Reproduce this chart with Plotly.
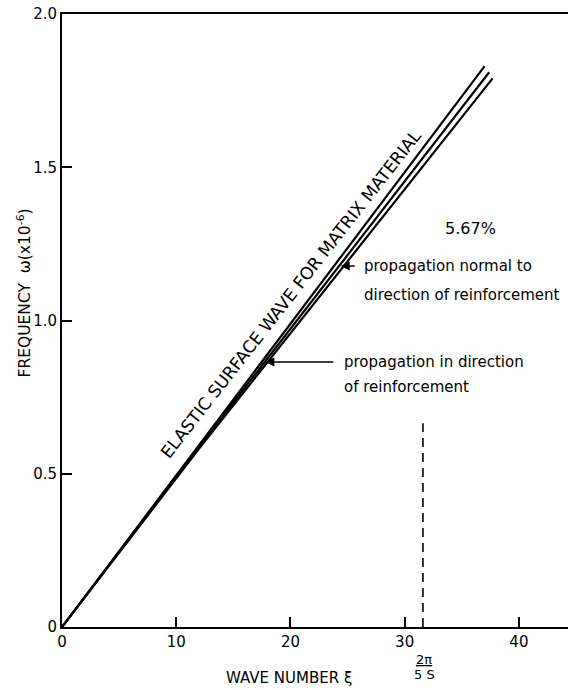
import plotly.graph_objects as go

# ---- data ----
x_tick_vals = [0, 10, 20, 30, 40]
x_tick_text = ["0", "10", "20", "30", "40"]
y_tick_vals = [0, 0.5, 1.0, 1.5, 2.0]
y_tick_text = ["0", "0.5", "1.0", "1.5", "2.0"]

matrix_x = [0, 12, 37.0]
matrix_y = [0, 0.594, 1.83]
normal_x = [0, 12, 37.4]
normal_y = [0, 0.588, 1.81]
direction_x = [0, 12, 37.7]
direction_y = [0, 0.582, 1.79]

cutoff_x = [31.6, 31.6]
cutoff_y = [0, 0.665]

FONT = "DejaVu Sans"

fig = go.Figure()
for xs, ys in [(matrix_x, matrix_y), (normal_x, normal_y), (direction_x, direction_y)]:
    fig.add_trace(go.Scatter(x=xs, y=ys, mode="lines",
                             line=dict(color="black", width=2.2),
                             showlegend=False, hoverinfo="skip"))
fig.add_trace(go.Scatter(x=cutoff_x, y=cutoff_y, mode="lines",
                         line=dict(color="black", width=1.6, dash="9px,6px"),
                         showlegend=False, hoverinfo="skip"))

ann = []
def txt(x, y, s, size=14, xanchor="center", angle=0, xref="x", yref="y"):
    ann.append(dict(x=x, y=y, text=s, showarrow=False, xanchor=xanchor, yanchor="middle",
                    textangle=angle, xref=xref, yref=yref,
                    font=dict(family=FONT, size=size, color="black")))

txt(20.05, 1.085, "ELASTIC SURFACE WAVE FOR MATRIX MATERIAL", size=17.2, angle=-52)
txt(35.8, 1.30, "5.67%", size=16)
txt(26.25, 1.178, "propagation normal to", size=15, xanchor="left")
txt(26.25, 1.083, "direction of reinforcement", size=15, xanchor="left")
txt(24.5, 0.865, "propagation in direction", size=15, xanchor="left")
txt(24.5, 0.783, "of reinforcement", size=15, xanchor="left")

# arrows
ann.append(dict(x=24.4, y=1.178, ax=16, ay=0, text=" ", showarrow=True,
                arrowhead=2, arrowsize=1.2, arrowwidth=1.5, arrowcolor="black",
                font=dict(size=4), xref="x", yref="y"))
ann.append(dict(x=17.8, y=0.865, ax=70, ay=0, text=" ", showarrow=True,
                arrowhead=2, arrowsize=1.2, arrowwidth=1.5, arrowcolor="black",
                font=dict(size=4), xref="x", yref="y"))

# axis titles
txt(-0.074, 0.545, "FREQUENCY  ω(x10<sup>-6</sup>)", size=15.5, angle=-90,
    xref="paper", yref="paper")
txt(0.449, -0.083, "WAVE NUMBER ξ", size=15, xref="paper", yref="paper")
txt(31.7, -0.053, "<u>2π</u>", size=13, yref="paper")
txt(31.7, -0.077, "5 S", size=13, yref="paper")

fig.update_layout(
    width=568, height=690,
    margin=dict(l=62, r=0, t=14, b=63),
    paper_bgcolor="white", plot_bgcolor="white",
    annotations=ann,
    xaxis=dict(range=[0, 44.3], tickvals=x_tick_vals, ticktext=x_tick_text,
               ticks="inside", ticklen=10, tickwidth=2, tickcolor="black",
               showline=True, linecolor="black", linewidth=2, mirror=True,
               showgrid=False, zeroline=False,
               tickfont=dict(family=FONT, size=15, color="black")),
    yaxis=dict(range=[0, 2.0], tickvals=y_tick_vals, ticktext=y_tick_text,
               ticks="inside", ticklen=10, tickwidth=2, tickcolor="black",
               showline=True, linecolor="black", linewidth=2,
               showgrid=False, zeroline=False,
               tickfont=dict(family=FONT, size=15, color="black")),
)
fig.write_html("out.html")
